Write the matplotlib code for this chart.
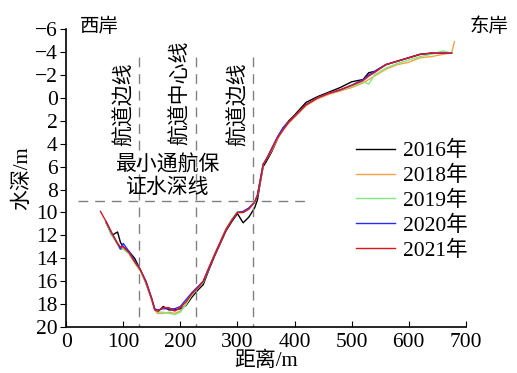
import matplotlib
matplotlib.use('Agg')
import matplotlib.pyplot as plt
import numpy as np

plt.rcParams['font.family'] = ['Liberation Serif', 'Noto Sans CJK SC', 'DejaVu Sans']
plt.rcParams['axes.unicode_minus'] = True

nan = np.nan
dist = [60, 70, 80, 90, 95, 100, 110, 120, 130, 140,
        150, 155, 160, 170, 180, 190, 200, 210, 220, 230,
        240, 250, 260, 270, 280, 290, 300, 310, 320, 330,
        335, 340, 345, 350, 360, 370, 380, 390, 400, 420,
        440, 460, 480, 500, 520, 530, 540, 560, 580, 600,
        620, 640, 660, 675, 680]

depth_2016 = [nan, 10.9, 12.0, 11.7, 12.6, 13.0, 13.4, 14.0, 15.0, 16.2,
              17.6, 18.4, 18.7, 18.2, 18.5, 18.5, 18.4, 18.1, 17.4, 16.8,
              16.3, 15.0, 13.8, 12.7, 11.6, 10.8, 10.1, 10.9, 10.4, 9.6,
              8.9, 7.4, 6.0, 5.6, 4.7, 3.6, 2.6, 2.0, 1.5, 0.4,
              -0.1, -0.5, -0.9, -1.4, -1.6, -2.2, -2.3, -2.9, -3.2, -3.5,
              -3.8, -3.9, -3.9, -3.9, nan]
depth_2018 = [nan, 10.9, 11.9, 12.8, 13.2, 13.1, 13.6, 14.4, 15.1, 16.1,
              17.6, 18.5, 18.8, 18.8, 18.7, 18.8, 18.6, 18.0, 17.2, 16.6,
              16.0, 14.8, 13.6, 12.5, 11.4, 10.6, 10.0, 10.0, 9.7, 9.1,
              8.5, 7.2, 5.8, 5.4, 4.6, 3.6, 2.8, 2.2, 1.7, 0.7,
              0.1, -0.3, -0.6, -0.9, -1.3, -1.6, -1.9, -2.5, -2.9, -3.1,
              -3.5, -3.6, -3.8, -3.9, -4.9]
depth_2019 = [nan, 10.9, 12.0, 12.8, 13.2, 13.2, 13.6, 14.4, 15.1, 16.2,
              17.6, 18.4, 18.7, 18.7, 18.8, 18.9, 18.7, 18.0, 17.2, 16.6,
              16.1, 14.9, 13.7, 12.6, 11.5, 10.6, 9.9, 10.0, 9.7, 9.1,
              8.5, 7.2, 5.8, 5.4, 4.5, 3.5, 2.6, 2.1, 1.6, 0.6,
              0.0, -0.4, -0.7, -1.0, -1.4, -1.2, -2.0, -2.6, -3.0, -3.3,
              -3.6, -3.8, -4.1, -3.9, nan]
depth_2020 = [nan, 10.8, 11.8, 12.7, 13.2, 12.7, 13.4, 14.2, 15.0, 16.0,
              17.5, 18.4, 18.5, 18.4, 18.4, 18.4, 18.2, 17.6, 17.0, 16.5,
              16.0, 14.9, 13.7, 12.6, 11.5, 10.7, 10.0, 9.9, 9.6, 9.1,
              8.5, 7.1, 5.8, 5.4, 4.4, 3.4, 2.6, 2.1, 1.6, 0.6,
              0.0, -0.4, -0.7, -1.1, -1.6, -2.0, -2.3, -2.9, -3.2, -3.5,
              -3.8, -3.9, -3.9, -3.9, nan]
depth_2021 = [9.9, 10.8, 11.8, 12.7, 13.0, 13.0, 13.5, 14.3, 15.0, 16.1,
              17.6, 18.5, 18.6, 18.3, 18.3, 18.6, 18.3, 17.8, 17.1, 16.6,
              16.0, 14.8, 13.7, 12.6, 11.5, 10.7, 10.0, 10.0, 9.7, 9.1,
              8.5, 7.2, 5.8, 5.4, 4.5, 3.5, 2.8, 2.1, 1.6, 0.6,
              0.0, -0.4, -0.7, -1.1, -1.5, -1.9, -2.2, -2.9, -3.2, -3.5,
              -3.8, -3.9, -3.9, -3.9, nan]

years = ['2016年', '2018年', '2019年', '2020年', '2021年']
depths = [depth_2016, depth_2018, depth_2019, depth_2020, depth_2021]
colors = ['#000000', '#f4a244', '#7fe87f', '#2a2aff', '#e0141e']

channel_lines = [128, 228, 327]
channel_labels = ['航道边线', '航道中心线', '航道边线']
min_depth = 9

fig = plt.figure(figsize=(5.17, 3.73), dpi=100)
ax = fig.add_axes([0.128, 0.123, 0.773, 0.799])

for lab, d, c in zip(years, depths, colors):
    ax.plot(dist, d, color=c, lw=1.0, label=lab)

ax.vlines(channel_lines, -3.6, 20, colors='#808080', linestyles=(0, (7, 5)), lw=1.0)
ax.hlines(min_depth, 20, 420, colors='#808080', linestyles=(0, (7, 5)), lw=1.0)

fs = 15
ax.text(103, 0.57, channel_labels[0], rotation=90, ha='center', va='center', fontsize=fs)
ax.text(201, -0.4, channel_labels[1], rotation=90, ha='center', va='center', fontsize=fs)
ax.text(303, 0.57, channel_labels[2], rotation=90, ha='center', va='center', fontsize=fs)
ax.text(177, 6.85, '最小通航保\n证水深线', ha='center', va='center', fontsize=fs, linespacing=1.2)
ax.text(24, -6.2, '西岸', ha='left', va='center', fontsize=14, clip_on=False)
ax.text(707, -6.2, '东岸', ha='left', va='center', fontsize=14, clip_on=False)

ax.set_xlim(0, 700)
ax.set_ylim(20, -6)
ax.set_xticks(np.arange(0, 701, 100))
ax.set_yticks(np.arange(-6, 21, 2))
ax.tick_params(axis='x', direction='in', length=4, labelsize=15.5, pad=4)
ax.tick_params(axis='y', direction='out', length=4, labelsize=15.5, pad=2)
ax.spines['top'].set_visible(False)
ax.spines['right'].set_visible(False)
for s in ['left', 'bottom']:
    ax.spines[s].set_linewidth(1.2)
ax.set_xlabel('距离/m', fontsize=fs, labelpad=0)
ax.set_ylabel('水深/m', fontsize=fs, labelpad=2)

ax.legend(loc='upper left', bbox_to_anchor=(0.725, 0.625), frameon=False, fontsize=15.5,
          handlelength=1.8, handletextpad=0.4, labelspacing=0.22, borderaxespad=0,
          borderpad=0)

fig.savefig('out.png', dpi=100)
